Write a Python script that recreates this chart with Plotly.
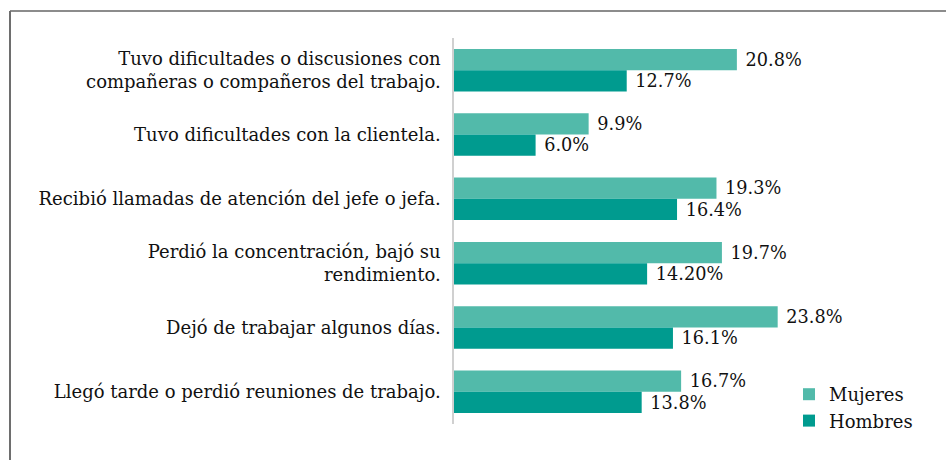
import plotly.graph_objects as go

categories = [
    "Tuvo dificultades o discusiones con<br>compañeras o compañeros del trabajo.",
    "Tuvo dificultades con la clientela.",
    "Recibió llamadas de atención del jefe o jefa.",
    "Perdió la concentración, bajó su<br>rendimiento.",
    "Dejó de trabajar algunos días.",
    "Llegó tarde o perdió reuniones de trabajo.",
]
mujeres = [20.8, 9.9, 19.3, 19.7, 23.8, 16.7]
hombres = [12.7, 6.0, 16.4, 14.2, 16.1, 13.8]
mujeres_labels = ["20.8%", "9.9%", "19.3%", "19.7%", "23.8%", "16.7%"]
hombres_labels = ["12.7%", "6.0%", "16.4%", "14.20%", "16.1%", "13.8%"]

FONT = "DejaVu Serif"
W, H = 946, 460
L, R, T, B = 454, 84, 38, 36
XMAX = (W - L - R) / 13.6

fig = go.Figure()
fig.add_trace(go.Bar(
    y=categories, x=mujeres, name="Mujeres", orientation="h",
    marker=dict(color="#52BAAA", line=dict(width=0)),
    text=mujeres_labels, texttemplate=" %{text}", textposition="outside",
    cliponaxis=False,
    textfont=dict(family=FONT, size=20, color="#111111"),
))
fig.add_trace(go.Bar(
    y=categories, x=hombres, name="Hombres", orientation="h",
    marker=dict(color="#009B8F", line=dict(width=0)),
    text=hombres_labels, texttemplate=" %{text}", textposition="outside",
    cliponaxis=False,
    textfont=dict(family=FONT, size=20, color="#111111"),
))

pw = W - L - R
ph = H - T - B
def px_x(x):
    return (x - L) / pw
def px_y(y):
    return (H - B - y) / ph

fig.update_layout(
    width=W, height=H,
    margin=dict(l=L, r=R, t=T, b=B, autoexpand=False),
    paper_bgcolor="white", plot_bgcolor="white",
    barmode="group", bargap=0.34, bargroupgap=0,
    font=dict(family=FONT, size=18, color="#111111"),
    showlegend=True,
    legend=dict(
        xref="container", yref="container",
        x=789 / W, y=(H - 376) / H, xanchor="left", yanchor="top",
        font=dict(family=FONT, size=18, color="#111111"),
        bgcolor="rgba(0,0,0,0)", itemwidth=30, tracegroupgap=4,
    ),
    xaxis=dict(range=[0, XMAX], showgrid=False, zeroline=False,
               showticklabels=False, showline=False, ticks=""),
    yaxis=dict(autorange="reversed", showgrid=False, zeroline=False,
               showline=True, linecolor="#D0D0D0", linewidth=1.5,
               ticks="", ticklabelstandoff=8,
               tickfont=dict(family=FONT, size=18, color="#111111")),
    shapes=[
        dict(type="line", xref="paper", yref="paper",
             x0=px_x(10), x1=px_x(946), y0=px_y(11), y1=px_y(11),
             line=dict(color="#8C8C8C", width=2)),
        dict(type="line", xref="paper", yref="paper",
             x0=px_x(10), x1=px_x(10), y0=px_y(11), y1=px_y(462),
             line=dict(color="#6E6E6E", width=2)),
    ],
)

fig.write_html(
    "out.html",
    config={"displayModeBar": False},
    post_script="document.body.style.margin='0';document.body.style.overflow='hidden';",
)
